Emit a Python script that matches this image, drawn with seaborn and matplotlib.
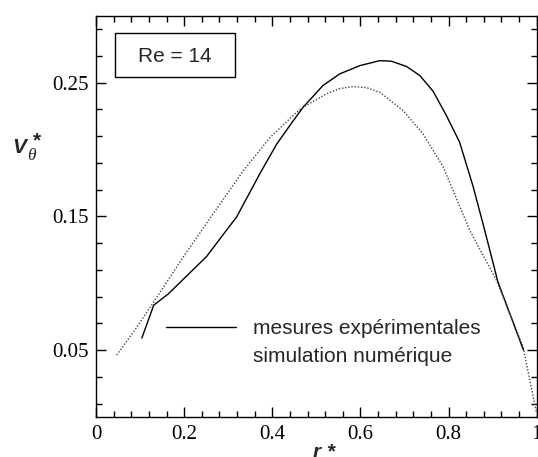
import matplotlib
matplotlib.use("Agg")
import matplotlib.pyplot as plt
import seaborn as sns
import pandas as pd
from matplotlib.lines import Line2D
from matplotlib.patches import Rectangle
from matplotlib.ticker import MultipleLocator, FixedLocator

# ---- data ----
exp_r = [0.104, 0.131, 0.164, 0.251, 0.296, 0.319, 0.372, 0.41, 0.44, 0.47,
         0.515, 0.553, 0.599, 0.644, 0.670, 0.705, 0.735, 0.765, 0.795, 0.825,
         0.856, 0.882, 0.912, 0.970]
exp_v = [0.059, 0.0836, 0.092, 0.120, 0.1396, 0.1495, 0.182, 0.204, 0.218, 0.2316,
         0.2478, 0.2565, 0.2627, 0.2664, 0.266, 0.262, 0.2552, 0.2435, 0.2254, 0.2055,
         0.172, 0.1396, 0.101, 0.05]

sim_r = [0.047, 0.088, 0.131, 0.198, 0.24, 0.266, 0.334, 0.395, 0.459, 0.47,
         0.523, 0.553, 0.583, 0.614, 0.644, 0.697, 0.742, 0.788, 0.848, 0.909,
         0.969, 0.999]
sim_v = [0.0463, 0.065, 0.086, 0.1196, 0.1396, 0.152, 0.184, 0.209, 0.229, 0.2316,
         0.2416, 0.2455, 0.247, 0.2462, 0.2428, 0.229, 0.2117, 0.1868, 0.1396, 0.102,
         0.0525, 0.004]

x_ticks = [0, 0.2, 0.4, 0.6, 0.8, 1.0]
x_tick_labels = ["0", "0.2", "0.4", "0.6", "0.8", "1"]
y_ticks = [0.05, 0.15, 0.25]
y_tick_labels = ["0.05", "0.15", "0.25"]
legend_labels = ["mesures expérimentales", "simulation numérique"]
annotation = "Re = 14"

sns.set_style("ticks")
plt.rcParams['font.family'] = ['Liberation Sans', 'DejaVu Sans']

W, H = 538, 457
fig = plt.figure(figsize=(W / 100, H / 100), dpi=100)
ax = fig.add_axes([96 / W, (H - 417) / H, (536.7 - 96) / W, (417 - 15.7) / H])

df_exp = pd.DataFrame({"r": exp_r, "v": exp_v})
df_sim = pd.DataFrame({"r": sim_r, "v": sim_v})
sns.lineplot(data=df_exp, x="r", y="v", ax=ax, color="black", lw=1.0,
             sort=False, estimator=None)
sns.lineplot(data=df_sim, x="r", y="v", ax=ax, color="#444444", lw=1.0,
             linestyle=(0, (1, 1.3)), sort=False, estimator=None)

ax.set_xlim(0, 1)
ax.set_ylim(0, 0.3)
ax.set_xlabel("")
ax.set_ylabel("")

ax.xaxis.set_major_locator(FixedLocator(x_ticks))
ax.set_xticklabels(x_tick_labels)
ax.xaxis.set_minor_locator(MultipleLocator(0.04))
ax.yaxis.set_major_locator(FixedLocator(y_ticks))
ax.set_yticklabels(y_tick_labels)
ax.yaxis.set_minor_locator(FixedLocator([0.01, 0.03, 0.07, 0.09, 0.11, 0.13,
                                         0.17, 0.19, 0.21, 0.23, 0.27, 0.29]))

for s in ax.spines.values():
    s.set_visible(True)
    s.set_linewidth(1.0)
    s.set_color("black")

ax.tick_params(which="both", direction="in", top=True, right=True,
               colors="black", width=1.0)
ax.tick_params(which="major", length=7.2)
ax.tick_params(which="minor", length=4)
ax.tick_params(axis="y", which="major", pad=5)
ax.tick_params(axis="x", which="major", pad=6)
for lab in ax.get_xticklabels() + ax.get_yticklabels():
    lab.set_fontfamily("Liberation Serif")
    lab.set_fontsize(15)

# Re box
x0 = (115 - 96) / 441
x1 = (235 - 96) / 441
y1 = (417 - 33) / 401
y0 = (417 - 77) / 401
ax.add_patch(Rectangle((x0, y0), x1 - x0, y1 - y0, transform=ax.transAxes,
                       fill=False, edgecolor="black", lw=1.0, zorder=5))
ax.text((x0 + x1) / 2, (y0 + y1) / 2 - 0.005, annotation, transform=ax.transAxes,
        ha="center", va="center", fontsize=15, fontfamily="Liberation Sans")

# legend
handles = [Line2D([], [], color="black", lw=1.0),
           Line2D([], [], linestyle="none")]
leg = fig.legend(handles, legend_labels, loc="upper left",
                 bbox_to_anchor=(166 / W, 1 - 319 / H), frameon=False,
                 borderpad=0, borderaxespad=0, handlelength=3.37,
                 handletextpad=0.82, labelspacing=0.42,
                 prop={"family": "Liberation Sans", "size": 15})

# axis labels
fig.text(12 / W, 1 - 153 / H, "V", fontsize=15, fontweight="bold",
         fontstyle="italic", fontfamily="Liberation Sans", va="baseline", ha="left")
fig.text(27.5 / W, 1 - 160 / H, "θ", fontsize=12.5, fontstyle="italic",
         fontfamily="Liberation Serif", va="baseline", ha="left")
fig.text(32.5 / W, 1 - 146 / H, "*", fontsize=15, fontweight="bold",
         fontfamily="Liberation Sans", va="baseline", ha="left")
fig.text(313 / W, 1 - 458 / H, "r *", fontsize=15, fontweight="bold",
         fontstyle="italic", fontfamily="Liberation Sans", va="baseline", ha="left")

fig.savefig("out.png", dpi=100)
